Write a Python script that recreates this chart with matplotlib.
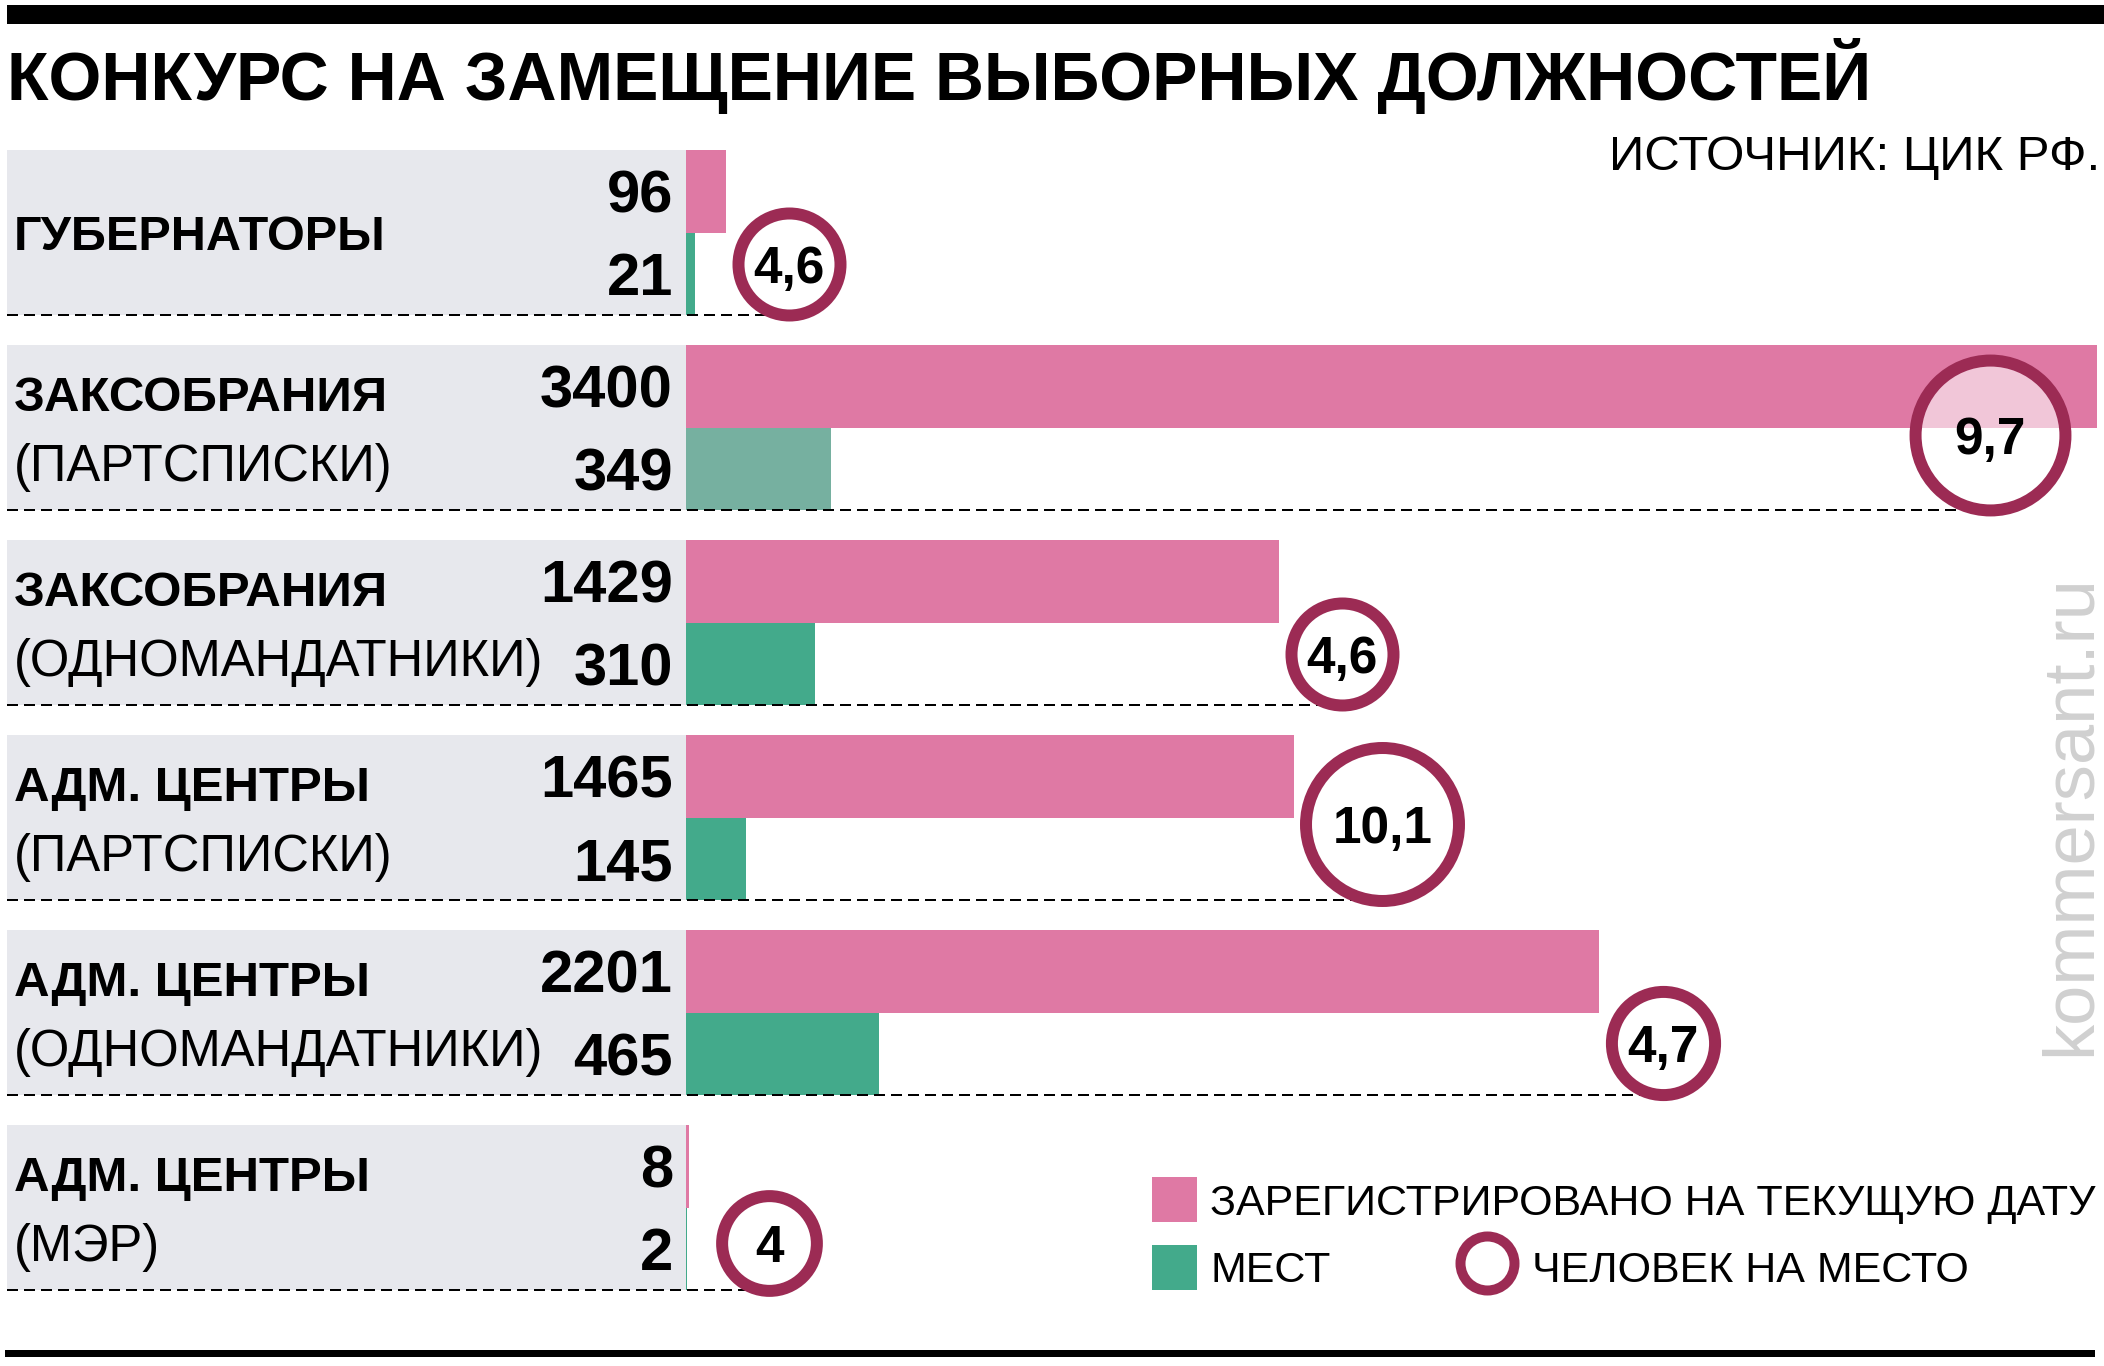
import numpy as np
import matplotlib
matplotlib.use("Agg")
import matplotlib.pyplot as plt
import matplotlib.transforms as mtransforms
from matplotlib.patches import Rectangle
from matplotlib.lines import Line2D

plt.rcParams['font.family'] = ['Liberation Sans', 'DejaVu Sans']

# data
label_top = ["ГУБЕРНАТОРЫ", "ЗАКСОБРАНИЯ", "ЗАКСОБРАНИЯ", "АДМ. ЦЕНТРЫ", "АДМ. ЦЕНТРЫ", "АДМ. ЦЕНТРЫ"]
label_sub = ["", "(ПАРТСПИСКИ)", "(ОДНОМАНДАТНИКИ)", "(ПАРТСПИСКИ)", "(ОДНОМАНДАТНИКИ)", "(МЭР)"]
registered = [96, 3400, 1429, 1465, 2201, 8]
seats = [21, 349, 310, 145, 465, 2]
per_seat = [4.6, 9.7, 4.6, 10.1, 4.7, 4]

title = "КОНКУРС НА ЗАМЕЩЕНИЕ ВЫБОРНЫХ ДОЛЖНОСТЕЙ"
source = "ИСТОЧНИК: ЦИК РФ."
legend_labels = ["ЗАРЕГИСТРИРОВАНО НА ТЕКУЩУЮ ДАТУ", "МЕСТ", "ЧЕЛОВЕК НА МЕСТО"]

PINK = "#df79a4"
GREEN = "#43aa8b"
GREEN_LIGHT = "#76b0a0"
GRAY = "#e7e8ed"
RING = "#9c2b54"
green_colors = [GREEN, GREEN_LIGHT, GREEN, GREEN, GREEN, GREEN]

W, H = 2104, 1366
def fx(x):
    return x / W
def fy(y):
    return 1 - y / H

fig = plt.figure(figsize=(W / 100, H / 100), dpi=100)

# main axes: one data unit in y = one group (195 px), x in candidates
bar0 = 686      # px where value 0 sits
right = 2097
xmax = max(registered)
ux = xmax / (right - bar0)   # value per px
xmin = -(bar0 - 7) * ux
ax = fig.add_axes([fx(7), fy(1320), (right - 7) / W, (1320 - 150) / H])
ax.set_xlim(xmin, xmax)
ax.set_ylim(6, 0)
ax.axis('off')

n = len(registered)
idx = np.arange(n)
h = 165 / 195

ax.barh(idx + h / 2, -xmin, left=xmin, height=h, color=GRAY, zorder=0)
ax.barh(idx + h / 4, registered, height=h / 2, color=PINK, zorder=1)
ax.barh(idx + 3 * h / 4, seats, height=h / 2, color=green_colors, zorder=1)

tr = mtransforms.blended_transform_factory(fig.transFigure, ax.transData)

for i in range(n):
    # circle size grows with the ratio
    r = 57 * (per_seat[i] / 4.6) ** 0.47
    cx_px = max(bar0 + registered[i] / ux + r + 6, bar0 + r + 30)
    cx_px = min(cx_px, right - r - 26)
    cx = (cx_px - bar0) * ux
    cy = i + h - (r - 6) / 195

    ax.hlines(i + h, xmin, cx, color='black', lw=1.44,
              linestyle=(0, (5.5, 3)), zorder=2)
    ax.scatter([cx], [cy], s=(2 * (r - 6) * 0.72) ** 2,
               facecolors=[(1, 1, 1, 0.58)], edgecolors=RING,
               linewidths=8.64, zorder=3, clip_on=False)
    txt = f"{per_seat[i]:g}".replace('.', ',')
    ax.text(cx, cy, txt, ha='center', va='center_baseline', fontsize=37,
            fontweight='bold', zorder=4, clip_on=False)

    ax.text(fx(673), i + h / 4, str(registered[i]), transform=tr, ha='right',
            va='center_baseline', fontsize=43, fontweight='bold')
    ax.text(fx(673), i + 3 * h / 4, str(seats[i]), transform=tr, ha='right',
            va='center_baseline', fontsize=43, fontweight='bold')

    if label_sub[i]:
        ax.text(fx(14), i + h / 4 + 0.035, label_top[i], transform=tr,
                va='center_baseline', fontsize=35.5, fontweight='bold')
        ax.text(fx(14), i + 3 * h / 4 - 0.035, label_sub[i], transform=tr,
                va='center_baseline', fontsize=36.5)
    else:
        ax.text(fx(14), i + h / 2, label_top[i], transform=tr,
                va='center_baseline', fontsize=35, fontweight='bold')

# header
fig.add_artist(Rectangle((fx(7), fy(24)), (W - 7) / W, 19 / H,
                         transform=fig.transFigure, color='black', lw=0))
fig.text(fx(7), fy(100), title, fontsize=49, fontweight='bold', va='baseline')
fig.text(fx(2100), fy(170), source, fontsize=35.5, ha='right', va='baseline')

# footer rule
fig.add_artist(Rectangle((fx(5), fy(1357)), (2095 - 5) / W, 7 / H,
                         transform=fig.transFigure, color='black', lw=0))

# legend
fig.add_artist(Rectangle((fx(1152), fy(1222)), 45 / W, 45 / H,
                         transform=fig.transFigure, color=PINK, lw=0))
fig.add_artist(Rectangle((fx(1152), fy(1290)), 45 / W, 45 / H,
                         transform=fig.transFigure, color=GREEN, lw=0))
fig.text(fx(1210), fy(1199), legend_labels[0], fontsize=31, va='center_baseline')
fig.text(fx(1210), fy(1267), legend_labels[1], fontsize=31, va='center_baseline')
fig.add_artist(Line2D([fx(1487)], [fy(1263)], marker='o',
                      markersize=2 * (32 - 5) * 0.72, markeredgewidth=10 * 0.72,
                      markerfacecolor='white', markeredgecolor=RING,
                      transform=fig.transFigure))
fig.text(fx(1532), fy(1267), legend_labels[2], fontsize=31, va='center_baseline')

# watermark
fig.text(fx(2071), fy(815), "kommersant.ru", rotation=90, ha='center', va='center',
         color='#d0d0d0', fontsize=52)

fig.savefig('out.png', dpi=100)
